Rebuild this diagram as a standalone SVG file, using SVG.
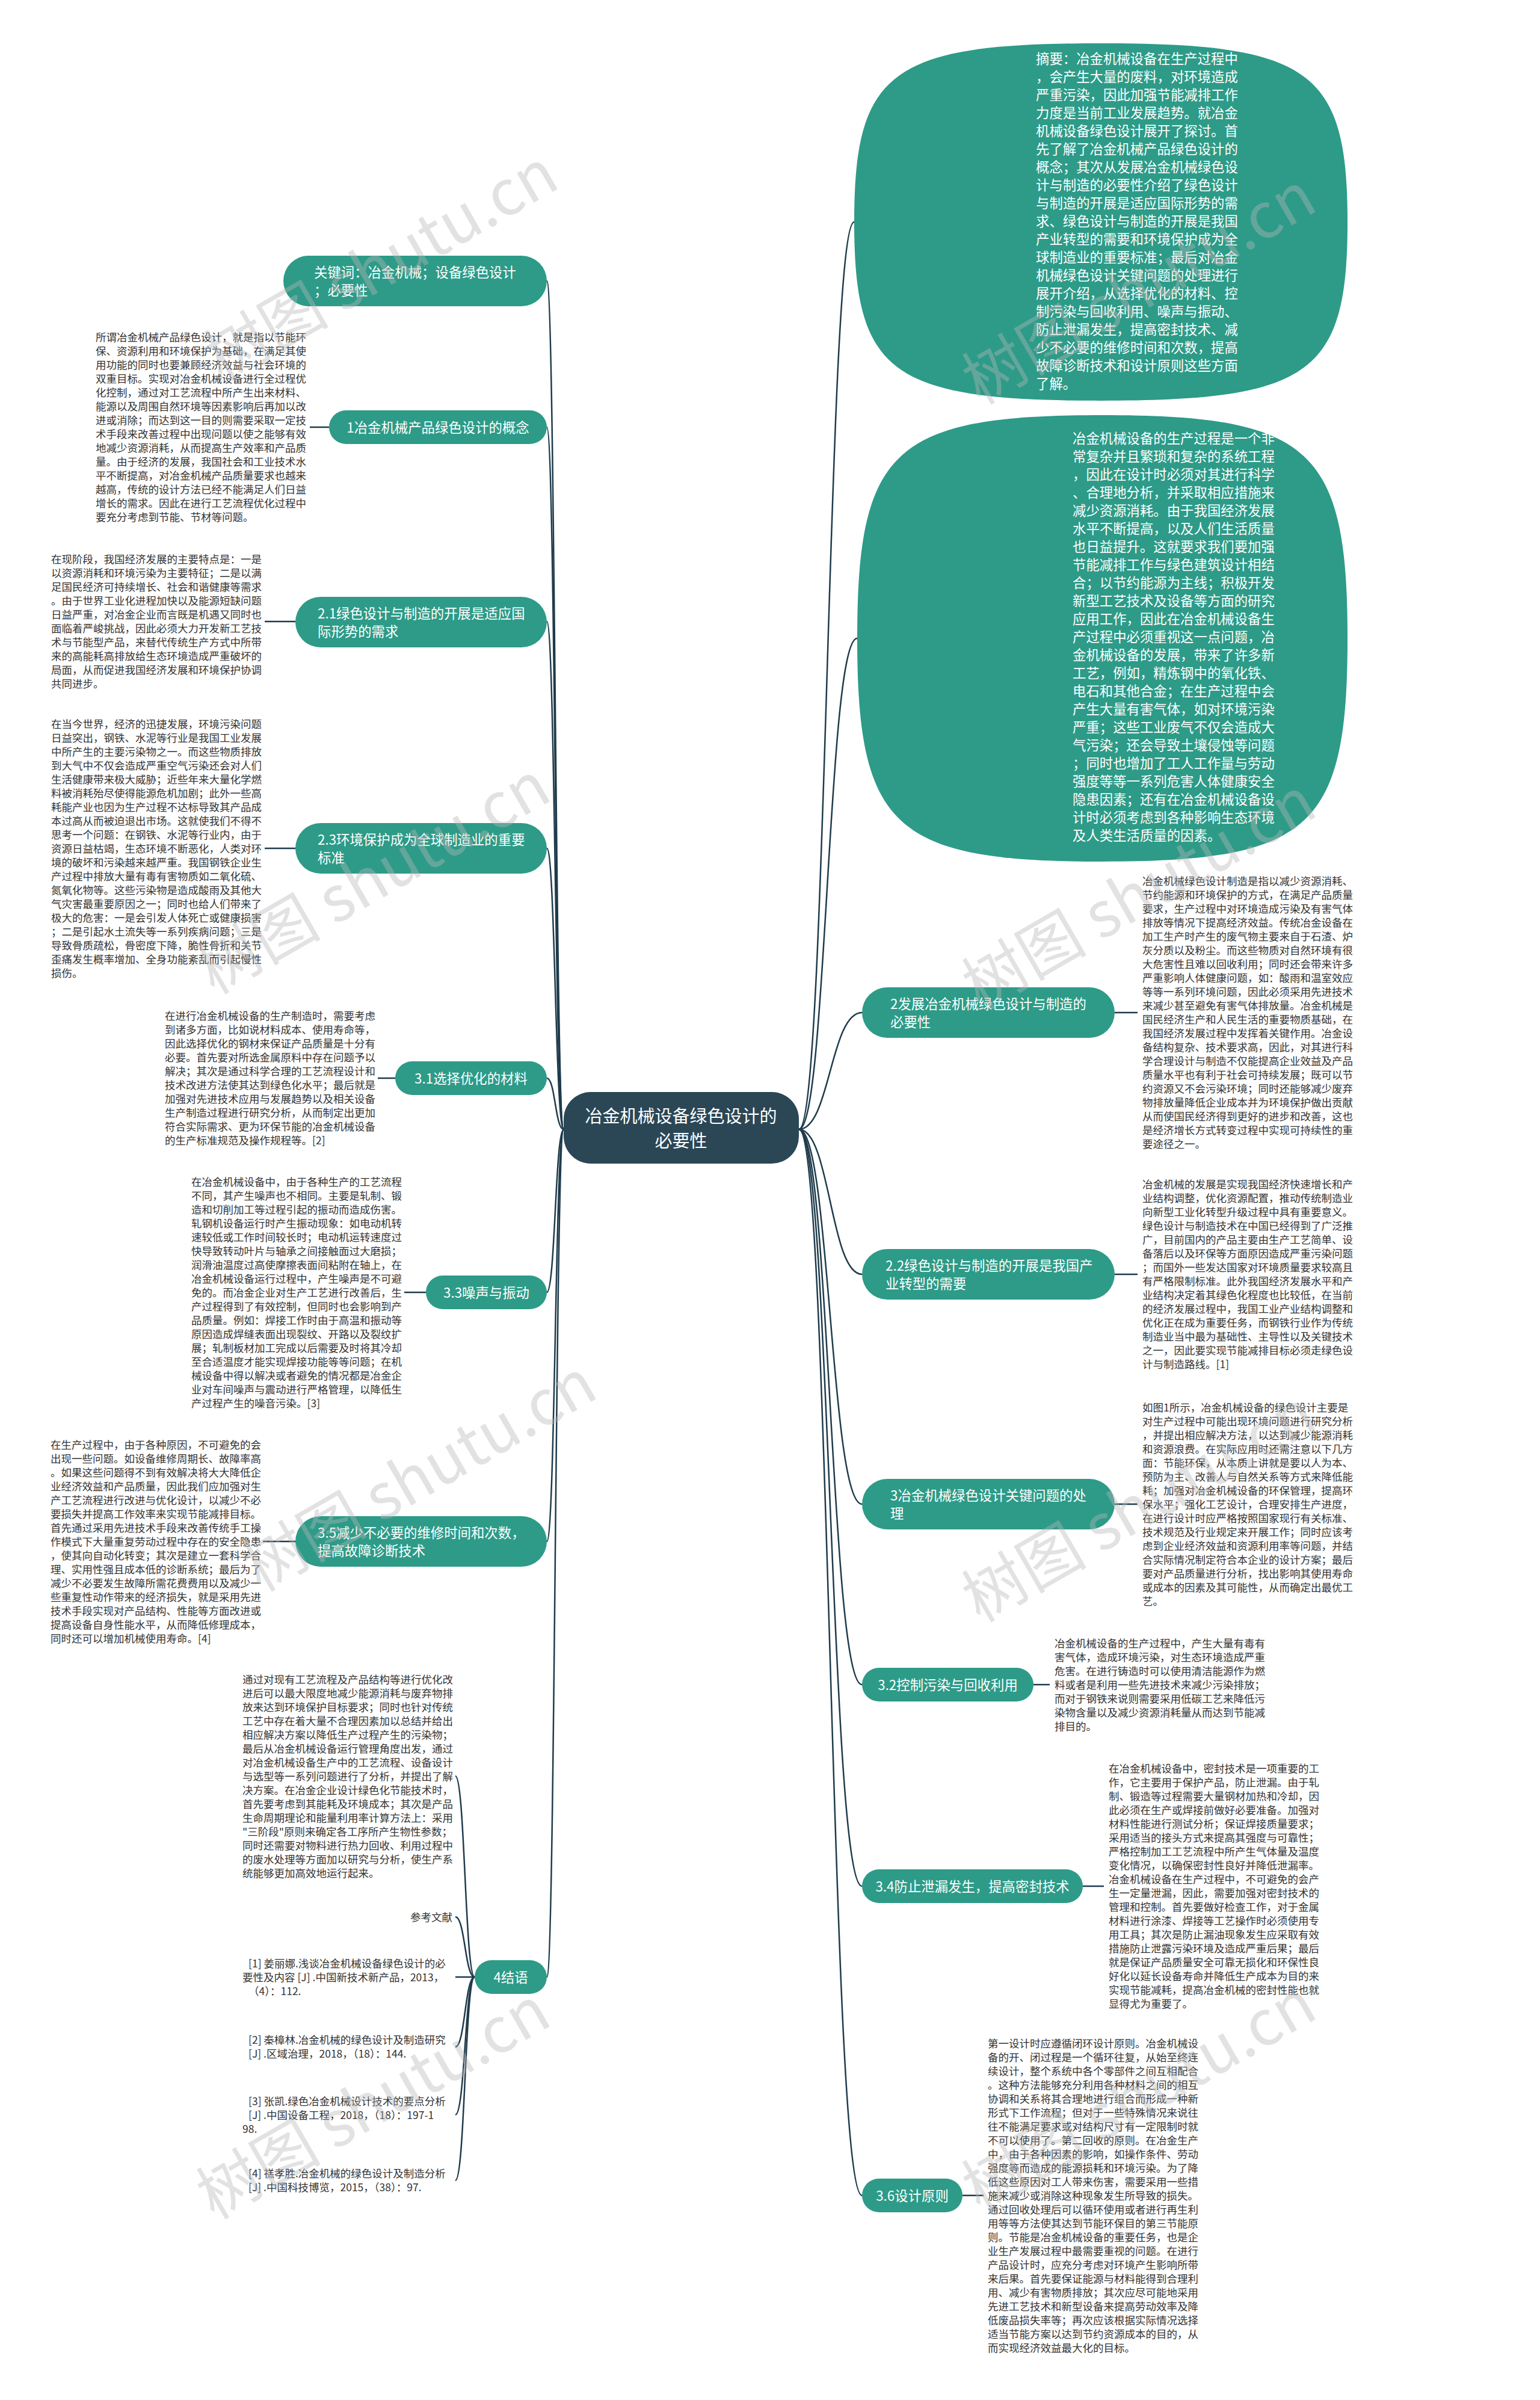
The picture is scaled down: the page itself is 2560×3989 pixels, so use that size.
<svg xmlns="http://www.w3.org/2000/svg" width="2560" height="3989" viewBox="0 0 2560 3989">
<style>
text{font-family:"Noto Sans CJK SC","Noto Sans",sans-serif}
.c{fill:none;stroke:#1f3b4b;stroke-width:2.5}
.n{fill:#2d9b88}
.nt{font-size:22.4px;fill:#fff}
.lt{font-size:17.5px;fill:#333}
.tt{font-size:29px;fill:#fff}
.wm{font-size:104px;fill:#b8b8b8;opacity:.4}
</style>
<rect width="2560" height="3989" fill="#fff"/>
<g id="connectors">
<path class="c" d="M1328,1877 C1375,1877 1375,369 1420,369"/>
<path class="c" d="M1328,1877 C1375,1877 1375,1061 1425,1061"/>
<path class="c" d="M1328,1877 C1380,1877 1380,1683 1433,1683"/>
<path class="c" d="M1328,1877 C1380,1877 1380,2118 1433,2118"/>
<path class="c" d="M1328,1877 C1380,1877 1380,2500 1433,2500"/>
<path class="c" d="M1328,1877 C1380,1877 1380,2800 1433,2800"/>
<path class="c" d="M1328,1877 C1380,1877 1380,3135 1433,3135"/>
<path class="c" d="M1328,1877 C1380,1877 1380,3649 1433,3649"/>
<path class="c" d="M937,1877 C923,1877 923,467 909,467"/>
<path class="c" d="M937,1877 C923,1877 923,710 909,710"/>
<path class="c" d="M937,1877 C923,1877 923,1033 909,1033"/>
<path class="c" d="M937,1877 C923,1877 923,1410 909,1410"/>
<path class="c" d="M937,1877 C923,1877 923,1792 909,1792"/>
<path class="c" d="M937,1877 C923,1877 923,2148 909,2148"/>
<path class="c" d="M937,1877 C923,1877 923,2562 909,2562"/>
<path class="c" d="M937,1877 C923,1877 923,3286 909,3286"/>
<path class="c" d="M547,710 H515"/>
<path class="c" d="M491,1033 H440"/>
<path class="c" d="M491,1410 H440"/>
<path class="c" d="M657,1792 H628"/>
<path class="c" d="M708,2148 H672"/>
<path class="c" d="M491,2562 H437"/>
<path class="c" d="M789,3286 C773,3286 773,2952 757,2952"/>
<path class="c" d="M789,3286 C773,3286 773,3186 757,3186"/>
<path class="c" d="M789,3286 H757"/>
<path class="c" d="M789,3286 C773,3286 773,3402 757,3402"/>
<path class="c" d="M789,3286 C773,3286 773,3515 757,3515"/>
<path class="c" d="M789,3286 C773,3286 773,3624 757,3624"/>
<path class="c" d="M1853,1683 H1891"/>
<path class="c" d="M1853,2118 H1891"/>
<path class="c" d="M1853,2500 H1891"/>
<path class="c" d="M1718,2800 H1745"/>
<path class="c" d="M1800,3135 H1835"/>
<path class="c" d="M1600,3649 H1635"/>
</g>
<g id="center">
<rect x="937" y="1815" width="391" height="119" rx="45" fill="#2b4756"/>
<text class="tt" text-anchor="middle"><tspan x="1132" y="1866">冶金机械设备绿色设计的</tspan><tspan x="1132" y="1907">必要性</tspan></text>
</g>
<g id="abstract">
<path class="n" d="M1420,369 C1420,116.6 1481.5,72 1830,72 C2178.5,72 2240,116.6 2240,369 C2240,621.4 2178.5,666 1830,666 C1481.5,666 1420,621.4 1420,369Z"/>
<text class="nt"><tspan x="1722" y="105.5">摘要：冶金机械设备在生产过程中</tspan><tspan x="1722" dy="30">，会产生大量的废料，对环境造成</tspan><tspan x="1722" dy="30">严重污染，因此加强节能减排工作</tspan><tspan x="1722" dy="30">力度是当前工业发展趋势。就冶金</tspan><tspan x="1722" dy="30">机械设备绿色设计展开了探讨。首</tspan><tspan x="1722" dy="30">先了解了冶金机械产品绿色设计的</tspan><tspan x="1722" dy="30">概念；其次从发展冶金机械绿色设</tspan><tspan x="1722" dy="30">计与制造的必要性介绍了绿色设计</tspan><tspan x="1722" dy="30">与制造的开展是适应国际形势的需</tspan><tspan x="1722" dy="30">求、绿色设计与制造的开展是我国</tspan><tspan x="1722" dy="30">产业转型的需要和环境保护成为全</tspan><tspan x="1722" dy="30">球制造业的重要标准；最后对冶金</tspan><tspan x="1722" dy="30">机械绿色设计关键问题的处理进行</tspan><tspan x="1722" dy="30">展开介绍，从选择优化的材料、控</tspan><tspan x="1722" dy="30">制污染与回收利用、噪声与振动、</tspan><tspan x="1722" dy="30">防止泄漏发生，提高密封技术、减</tspan><tspan x="1722" dy="30">少不必要的维修时间和次数，提高</tspan><tspan x="1722" dy="30">故障诊断技术和设计原则这些方面</tspan><tspan x="1722" dy="30">了解。</tspan></text>
</g>
<g id="intro">
<path class="n" d="M1425,1061 C1425,745.6 1486,690 1832.5,690 C2179,690 2240,745.6 2240,1061 C2240,1376.4 2179,1432 1832.5,1432 C1486,1432 1425,1376.4 1425,1061Z"/>
<text class="nt"><tspan x="1783" y="736.5">冶金机械设备的生产过程是一个非</tspan><tspan x="1783" dy="30">常复杂并且繁琐和复杂的系统工程</tspan><tspan x="1783" dy="30">，因此在设计时必须对其进行科学</tspan><tspan x="1783" dy="30">、合理地分析，并采取相应措施来</tspan><tspan x="1783" dy="30">减少资源消耗。由于我国经济发展</tspan><tspan x="1783" dy="30">水平不断提高，以及人们生活质量</tspan><tspan x="1783" dy="30">也日益提升。这就要求我们要加强</tspan><tspan x="1783" dy="30">节能减排工作与绿色建筑设计相结</tspan><tspan x="1783" dy="30">合；以节约能源为主线；积极开发</tspan><tspan x="1783" dy="30">新型工艺技术及设备等方面的研究</tspan><tspan x="1783" dy="30">应用工作，因此在冶金机械设备生</tspan><tspan x="1783" dy="30">产过程中必须重视这一点问题，冶</tspan><tspan x="1783" dy="30">金机械设备的发展，带来了许多新</tspan><tspan x="1783" dy="30">工艺，例如，精炼钢中的氧化铁、</tspan><tspan x="1783" dy="30">电石和其他合金；在生产过程中会</tspan><tspan x="1783" dy="30">产生大量有害气体，如对环境污染</tspan><tspan x="1783" dy="30">严重；这些工业废气不仅会造成大</tspan><tspan x="1783" dy="30">气污染；还会导致土壤侵蚀等问题</tspan><tspan x="1783" dy="30">；同时也增加了工人工作量与劳动</tspan><tspan x="1783" dy="30">强度等等一系列危害人体健康安全</tspan><tspan x="1783" dy="30">隐患因素；还有在冶金机械设备设</tspan><tspan x="1783" dy="30">计时必须考虑到各种影响生态环境</tspan><tspan x="1783" dy="30">及人类生活质量的因素。</tspan></text>
</g>
<g id="n2">
<rect class="n" x="1433" y="1641" width="420" height="84" rx="42"/>
<text class="nt"><tspan x="1480" y="1676.5">2发展冶金机械绿色设计与制造的</tspan><tspan x="1480" dy="30">必要性</tspan></text>
<text class="lt"><tspan x="1899" y="1471">冶金机械绿色设计制造是指以减少资源消耗、</tspan><tspan x="1899" dy="23">节约能源和环境保护的方式，在满足产品质量</tspan><tspan x="1899" dy="23">要求，生产过程中对环境造成污染及有害气体</tspan><tspan x="1899" dy="23">排放等情况下提高经济效益。传统冶金设备在</tspan><tspan x="1899" dy="23">加工生产时产生的废气物主要来自于石渣、炉</tspan><tspan x="1899" dy="23">灰分质以及粉尘。而这些物质对自然环境有很</tspan><tspan x="1899" dy="23">大危害性且难以回收利用；同时还会带来许多</tspan><tspan x="1899" dy="23">严重影响人体健康问题，如：酸雨和温室效应</tspan><tspan x="1899" dy="23">等等一系列环境问题，因此必须采用先进技术</tspan><tspan x="1899" dy="23">来减少甚至避免有害气体排放量。冶金机械是</tspan><tspan x="1899" dy="23">国民经济生产和人民生活的重要物质基础，在</tspan><tspan x="1899" dy="23">我国经济发展过程中发挥着关键作用。冶金设</tspan><tspan x="1899" dy="23">备结构复杂、技术要求高，因此，对其进行科</tspan><tspan x="1899" dy="23">学合理设计与制造不仅能提高企业效益及产品</tspan><tspan x="1899" dy="23">质量水平也有利于社会可持续发展；既可以节</tspan><tspan x="1899" dy="23">约资源又不会污染环境；同时还能够减少废弃</tspan><tspan x="1899" dy="23">物排放量降低企业成本并为环境保护做出贡献</tspan><tspan x="1899" dy="23">从而使国民经济得到更好的进步和改善，这也</tspan><tspan x="1899" dy="23">是经济增长方式转变过程中实现可持续性的重</tspan><tspan x="1899" dy="23">要途径之一。</tspan></text>
</g>
<g id="n22">
<rect class="n" x="1433" y="2076" width="420" height="84" rx="42"/>
<text class="nt"><tspan x="1472" y="2111.5">2.2绿色设计与制造的开展是我国产</tspan><tspan x="1472" dy="30">业转型的需要</tspan></text>
<text class="lt"><tspan x="1899" y="1975">冶金机械的发展是实现我国经济快速增长和产</tspan><tspan x="1899" dy="23">业结构调整，优化资源配置，推动传统制造业</tspan><tspan x="1899" dy="23">向新型工业化转型升级过程中具有重要意义。</tspan><tspan x="1899" dy="23">绿色设计与制造技术在中国已经得到了广泛推</tspan><tspan x="1899" dy="23">广，目前国内的产品主要由生产工艺简单、设</tspan><tspan x="1899" dy="23">备落后以及环保等方面原因造成严重污染问题</tspan><tspan x="1899" dy="23">；而国外一些发达国家对环境质量要求较高且</tspan><tspan x="1899" dy="23">有严格限制标准。此外我国经济发展水平和产</tspan><tspan x="1899" dy="23">业结构决定着其绿色化程度也比较低，在当前</tspan><tspan x="1899" dy="23">的经济发展过程中，我国工业产业结构调整和</tspan><tspan x="1899" dy="23">优化正在成为重要任务，而钢铁行业作为传统</tspan><tspan x="1899" dy="23">制造业当中最为基础性、主导性以及关键技术</tspan><tspan x="1899" dy="23">之一，因此要实现节能减排目标必须走绿色设</tspan><tspan x="1899" dy="23">计与制造路线。[1]</tspan></text>
</g>
<g id="n3">
<rect class="n" x="1433" y="2458" width="420" height="84" rx="42"/>
<text class="nt"><tspan x="1480" y="2493.5">3冶金机械绿色设计关键问题的处</tspan><tspan x="1480" dy="30">理</tspan></text>
<text class="lt"><tspan x="1899" y="2345.5">如图1所示，冶金机械设备的绿色设计主要是</tspan><tspan x="1899" dy="23">对生产过程中可能出现环境问题进行研究分析</tspan><tspan x="1899" dy="23">，并提出相应解决方法，以达到减少能源消耗</tspan><tspan x="1899" dy="23">和资源浪费。在实际应用时还需注意以下几方</tspan><tspan x="1899" dy="23">面：节能环保，从本质上讲就是要以人为本、</tspan><tspan x="1899" dy="23">预防为主、改善人与自然关系等方式来降低能</tspan><tspan x="1899" dy="23">耗；加强对冶金机械设备的环保管理，提高环</tspan><tspan x="1899" dy="23">保水平；强化工艺设计，合理安排生产进度，</tspan><tspan x="1899" dy="23">在进行设计时应严格按照国家现行有关标准、</tspan><tspan x="1899" dy="23">技术规范及行业规定来开展工作；同时应该考</tspan><tspan x="1899" dy="23">虑到企业经济效益和资源利用率等问题，并结</tspan><tspan x="1899" dy="23">合实际情况制定符合本企业的设计方案；最后</tspan><tspan x="1899" dy="23">要对产品质量进行分析，找出影响其使用寿命</tspan><tspan x="1899" dy="23">或成本的因素及其可能性，从而确定出最优工</tspan><tspan x="1899" dy="23">艺。</tspan></text>
</g>
<g id="n32">
<rect class="n" x="1433" y="2772" width="285" height="56" rx="28"/>
<text class="nt" text-anchor="middle"><tspan x="1575.5" y="2808.5">3.2控制污染与回收利用</tspan></text>
<text class="lt"><tspan x="1753" y="2737.5">冶金机械设备的生产过程中，产生大量有毒有</tspan><tspan x="1753" dy="23">害气体，造成环境污染，对生态环境造成严重</tspan><tspan x="1753" dy="23">危害。在进行铸造时可以使用清洁能源作为燃</tspan><tspan x="1753" dy="23">料或者是利用一些先进技术来减少污染排放；</tspan><tspan x="1753" dy="23">而对于钢铁来说则需要采用低碳工艺来降低污</tspan><tspan x="1753" dy="23">染物含量以及减少资源消耗量从而达到节能减</tspan><tspan x="1753" dy="23">排目的。</tspan></text>
</g>
<g id="n34">
<rect class="n" x="1433" y="3107" width="367" height="56" rx="28"/>
<text class="nt" text-anchor="middle"><tspan x="1616.5" y="3143.5">3.4防止泄漏发生，提高密封技术</tspan></text>
<text class="lt"><tspan x="1843" y="2946">在冶金机械设备中，密封技术是一项重要的工</tspan><tspan x="1843" dy="23">作，它主要用于保护产品，防止泄漏。由于轧</tspan><tspan x="1843" dy="23">制、锻造等过程需要大量钢材加热和冷却，因</tspan><tspan x="1843" dy="23">此必须在生产或焊接前做好必要准备。加强对</tspan><tspan x="1843" dy="23">材料性能进行测试分析；保证焊接质量要求；</tspan><tspan x="1843" dy="23">采用适当的接头方式来提高其强度与可靠性；</tspan><tspan x="1843" dy="23">严格控制加工工艺流程中所产生气体量及温度</tspan><tspan x="1843" dy="23">变化情况，以确保密封性良好并降低泄漏率。</tspan><tspan x="1843" dy="23">冶金机械设备在生产过程中，不可避免的会产</tspan><tspan x="1843" dy="23">生一定量泄漏，因此，需要加强对密封技术的</tspan><tspan x="1843" dy="23">管理和控制。首先要做好检查工作，对于金属</tspan><tspan x="1843" dy="23">材料进行涂漆、焊接等工艺操作时必须使用专</tspan><tspan x="1843" dy="23">用工具；其次是防止漏油现象发生应采取有效</tspan><tspan x="1843" dy="23">措施防止泄露污染环境及造成严重后果；最后</tspan><tspan x="1843" dy="23">就是保证产品质量安全可靠无损化和环保性良</tspan><tspan x="1843" dy="23">好化以延长设备寿命并降低生产成本为目的来</tspan><tspan x="1843" dy="23">实现节能减耗，提高冶金机械的密封性能也就</tspan><tspan x="1843" dy="23">显得尤为重要了。</tspan></text>
</g>
<g id="n36">
<rect class="n" x="1433" y="3621" width="167" height="56" rx="28"/>
<text class="nt" text-anchor="middle"><tspan x="1516.5" y="3657.5">3.6设计原则</tspan></text>
<text class="lt"><tspan x="1642" y="3402.5">第一设计时应遵循闭环设计原则。冶金机械设</tspan><tspan x="1642" dy="23">备的开、闭过程是一个循环往复，从始至终连</tspan><tspan x="1642" dy="23">续设计，整个系统中各个零部件之间互相配合</tspan><tspan x="1642" dy="23">。这种方法能够充分利用各种材料之间的相互</tspan><tspan x="1642" dy="23">协调和关系将其合理地进行组合而形成一种新</tspan><tspan x="1642" dy="23">形式下工作流程；但对于一些特殊情况来说往</tspan><tspan x="1642" dy="23">往不能满足要求或对结构尺寸有一定限制时就</tspan><tspan x="1642" dy="23">不可以使用了。第二回收的原则。在冶金生产</tspan><tspan x="1642" dy="23">中，由于各种因素的影响，如操作条件、劳动</tspan><tspan x="1642" dy="23">强度等而造成的能源损耗和环境污染。为了降</tspan><tspan x="1642" dy="23">低这些原因对工人带来伤害，需要采用一些措</tspan><tspan x="1642" dy="23">施来减少或消除这种现象发生所导致的损失。</tspan><tspan x="1642" dy="23">通过回收处理后可以循环使用或者进行再生利</tspan><tspan x="1642" dy="23">用等等方法使其达到节能环保目的第三节能原</tspan><tspan x="1642" dy="23">则。节能是冶金机械设备的重要任务，也是企</tspan><tspan x="1642" dy="23">业生产发展过程中最需要重视的问题。在进行</tspan><tspan x="1642" dy="23">产品设计时，应充分考虑对环境产生影响所带</tspan><tspan x="1642" dy="23">来后果。首先要保证能源与材料能得到合理利</tspan><tspan x="1642" dy="23">用、减少有害物质排放；其次应尽可能地采用</tspan><tspan x="1642" dy="23">先进工艺技术和新型设备来提高劳动效率及降</tspan><tspan x="1642" dy="23">低废品损失率等；再次应该根据实际情况选择</tspan><tspan x="1642" dy="23">适当节能方案以达到节约资源成本的目的，从</tspan><tspan x="1642" dy="23">而实现经济效益最大化的目标。</tspan></text>
</g>
<g id="kw">
<rect class="n" x="471" y="425" width="438" height="84" rx="42"/>
<text class="nt"><tspan x="522" y="460.5">关键词：冶金机械；设备绿色设计</tspan><tspan x="522" dy="30">；必要性</tspan></text>
</g>
<g id="n1">
<rect class="n" x="547" y="682" width="362" height="56" rx="28"/>
<text class="nt" text-anchor="middle"><tspan x="728" y="718.5">1冶金机械产品绿色设计的概念</tspan></text>
<text class="lt"><tspan x="159" y="567">所谓冶金机械产品绿色设计，就是指以节能环</tspan><tspan x="159" dy="23">保、资源利用和环境保护为基础，在满足其使</tspan><tspan x="159" dy="23">用功能的同时也要兼顾经济效益与社会环境的</tspan><tspan x="159" dy="23">双重目标。实现对冶金机械设备进行全过程优</tspan><tspan x="159" dy="23">化控制，通过对工艺流程中所产生出来材料、</tspan><tspan x="159" dy="23">能源以及周围自然环境等因素影响后再加以改</tspan><tspan x="159" dy="23">进或消除；而达到这一目的则需要采取一定技</tspan><tspan x="159" dy="23">术手段来改善过程中出现问题以使之能够有效</tspan><tspan x="159" dy="23">地减少资源消耗，从而提高生产效率和产品质</tspan><tspan x="159" dy="23">量。由于经济的发展，我国社会和工业技术水</tspan><tspan x="159" dy="23">平不断提高，对冶金机械产品质量要求也越来</tspan><tspan x="159" dy="23">越高，传统的设计方法已经不能满足人们日益</tspan><tspan x="159" dy="23">增长的需求。因此在进行工艺流程优化过程中</tspan><tspan x="159" dy="23">要充分考虑到节能、节材等问题。</tspan></text>
</g>
<g id="n21">
<rect class="n" x="491" y="992" width="418" height="84" rx="42"/>
<text class="nt"><tspan x="528" y="1027.5">2.1绿色设计与制造的开展是适应国</tspan><tspan x="528" dy="30">际形势的需求</tspan></text>
<text class="lt"><tspan x="85" y="936">在现阶段，我国经济发展的主要特点是：一是</tspan><tspan x="85" dy="23">以资源消耗和环境污染为主要特征；二是以满</tspan><tspan x="85" dy="23">足国民经济可持续增长、社会和谐健康等需求</tspan><tspan x="85" dy="23">。由于世界工业化进程加快以及能源短缺问题</tspan><tspan x="85" dy="23">日益严重，对冶金企业而言既是机遇又同时也</tspan><tspan x="85" dy="23">面临着严峻挑战，因此必须大力开发新工艺技</tspan><tspan x="85" dy="23">术与节能型产品，来替代传统生产方式中所带</tspan><tspan x="85" dy="23">来的高能耗高排放给生态环境造成严重破坏的</tspan><tspan x="85" dy="23">局面，从而促进我国经济发展和环境保护协调</tspan><tspan x="85" dy="23">共同进步。</tspan></text>
</g>
<g id="n23">
<rect class="n" x="491" y="1368" width="418" height="84" rx="42"/>
<text class="nt"><tspan x="528" y="1403.5">2.3环境保护成为全球制造业的重要</tspan><tspan x="528" dy="30">标准</tspan></text>
<text class="lt"><tspan x="85" y="1209.5">在当今世界，经济的迅捷发展，环境污染问题</tspan><tspan x="85" dy="23">日益突出，钢铁、水泥等行业是我国工业发展</tspan><tspan x="85" dy="23">中所产生的主要污染物之一。而这些物质排放</tspan><tspan x="85" dy="23">到大气中不仅会造成严重空气污染还会对人们</tspan><tspan x="85" dy="23">生活健康带来极大威胁；近些年来大量化学燃</tspan><tspan x="85" dy="23">料被消耗殆尽使得能源危机加剧；此外一些高</tspan><tspan x="85" dy="23">耗能产业也因为生产过程不达标导致其产品成</tspan><tspan x="85" dy="23">本过高从而被迫退出市场。这就使我们不得不</tspan><tspan x="85" dy="23">思考一个问题：在钢铁、水泥等行业内，由于</tspan><tspan x="85" dy="23">资源日益枯竭，生态环境不断恶化，人类对环</tspan><tspan x="85" dy="23">境的破坏和污染越来越严重。我国钢铁企业生</tspan><tspan x="85" dy="23">产过程中排放大量有毒有害物质如二氧化硫、</tspan><tspan x="85" dy="23">氮氧化物等。这些污染物是造成酸雨及其他大</tspan><tspan x="85" dy="23">气灾害最重要原因之一；同时也给人们带来了</tspan><tspan x="85" dy="23">极大的危害：一是会引发人体死亡或健康损害</tspan><tspan x="85" dy="23">；二是引起水土流失等一系列疾病问题；三是</tspan><tspan x="85" dy="23">导致骨质疏松，骨密度下降，脆性骨折和关节</tspan><tspan x="85" dy="23">歪痛发生概率增加、全身功能紊乱而引起慢性</tspan><tspan x="85" dy="23">损伤。</tspan></text>
</g>
<g id="n31">
<rect class="n" x="657" y="1764" width="252" height="56" rx="28"/>
<text class="nt" text-anchor="middle"><tspan x="783" y="1800.5">3.1选择优化的材料</tspan></text>
<text class="lt"><tspan x="274" y="1695">在进行冶金机械设备的生产制造时，需要考虑</tspan><tspan x="274" dy="23">到诸多方面，比如说材料成本、使用寿命等，</tspan><tspan x="274" dy="23">因此选择优化的钢材来保证产品质量是十分有</tspan><tspan x="274" dy="23">必要。首先要对所选金属原料中存在问题予以</tspan><tspan x="274" dy="23">解决；其次是通过科学合理的工艺流程设计和</tspan><tspan x="274" dy="23">技术改进方法使其达到绿色化水平；最后就是</tspan><tspan x="274" dy="23">加强对先进技术应用与发展趋势以及相关设备</tspan><tspan x="274" dy="23">生产制造过程进行研究分析，从而制定出更加</tspan><tspan x="274" dy="23">符合实际需求、更为环保节能的冶金机械设备</tspan><tspan x="274" dy="23">的生产标准规范及操作规程等。[2]</tspan></text>
</g>
<g id="n33">
<rect class="n" x="708" y="2120" width="201" height="56" rx="28"/>
<text class="nt" text-anchor="middle"><tspan x="808.5" y="2156.5">3.3噪声与振动</tspan></text>
<text class="lt"><tspan x="318" y="1970.5">在冶金机械设备中，由于各种生产的工艺流程</tspan><tspan x="318" dy="23">不同，其产生噪声也不相同。主要是轧制、锻</tspan><tspan x="318" dy="23">造和切削加工等过程引起的振动而造成伤害。</tspan><tspan x="318" dy="23">轧钢机设备运行时产生振动现象：如电动机转</tspan><tspan x="318" dy="23">速较低或工作时间较长时；电动机运转速度过</tspan><tspan x="318" dy="23">快导致转动叶片与轴承之间接触面过大磨损；</tspan><tspan x="318" dy="23">润滑油温度过高使摩擦表面间粘附在轴上，在</tspan><tspan x="318" dy="23">冶金机械设备运行过程中，产生噪声是不可避</tspan><tspan x="318" dy="23">免的。而冶金企业对生产工艺进行改善后，生</tspan><tspan x="318" dy="23">产过程得到了有效控制，但同时也会影响到产</tspan><tspan x="318" dy="23">品质量。例如：焊接工作时由于高温和振动等</tspan><tspan x="318" dy="23">原因造成焊缝表面出现裂纹、开路以及裂纹扩</tspan><tspan x="318" dy="23">展；轧制板材加工完成以后需要及时将其冷却</tspan><tspan x="318" dy="23">至合适温度才能实现焊接功能等等问题；在机</tspan><tspan x="318" dy="23">械设备中得以解决或者避免的情况都是冶金企</tspan><tspan x="318" dy="23">业对车间噪声与震动进行严格管理，以降低生</tspan><tspan x="318" dy="23">产过程产生的噪音污染。[3]</tspan></text>
</g>
<g id="n35">
<rect class="n" x="491" y="2520" width="418" height="84" rx="42"/>
<text class="nt"><tspan x="528" y="2555.5">3.5减少不必要的维修时间和次数，</tspan><tspan x="528" dy="30">提高故障诊断技术</tspan></text>
<text class="lt"><tspan x="84" y="2407.5">在生产过程中，由于各种原因，不可避免的会</tspan><tspan x="84" dy="23">出现一些问题。如设备维修周期长、故障率高</tspan><tspan x="84" dy="23">。如果这些问题得不到有效解决将大大降低企</tspan><tspan x="84" dy="23">业经济效益和产品质量，因此我们应加强对生</tspan><tspan x="84" dy="23">产工艺流程进行改进与优化设计，以减少不必</tspan><tspan x="84" dy="23">要损失并提高工作效率来实现节能减排目标。</tspan><tspan x="84" dy="23">首先通过采用先进技术手段来改善传统手工操</tspan><tspan x="84" dy="23">作模式下大量重复劳动过程中存在的安全隐患</tspan><tspan x="84" dy="23">，使其向自动化转变；其次是建立一套科学合</tspan><tspan x="84" dy="23">理、实用性强且成本低的诊断系统；最后为了</tspan><tspan x="84" dy="23">减少不必要发生故障所需花费费用以及减少一</tspan><tspan x="84" dy="23">些重复性动作带来的经济损失，就是采用先进</tspan><tspan x="84" dy="23">技术手段实现对产品结构、性能等方面改进或</tspan><tspan x="84" dy="23">提高设备自身性能水平，从而降低修理成本，</tspan><tspan x="84" dy="23">同时还可以增加机械使用寿命。[4]</tspan></text>
</g>
<g id="n4">
<rect class="n" x="789" y="3258" width="120" height="56" rx="28"/>
<text class="nt" text-anchor="middle"><tspan x="849" y="3294.5">4结语</tspan></text>
<text class="lt"><tspan x="403" y="2797.5">通过对现有工艺流程及产品结构等进行优化改</tspan><tspan x="403" dy="23">进后可以最大限度地减少能源消耗与废弃物排</tspan><tspan x="403" dy="23">放来达到环境保护目标要求；同时也针对传统</tspan><tspan x="403" dy="23">工艺中存在着大量不合理因素加以总结并给出</tspan><tspan x="403" dy="23">相应解决方案以降低生产过程产生的污染物；</tspan><tspan x="403" dy="23">最后从冶金机械设备运行管理角度出发，通过</tspan><tspan x="403" dy="23">对冶金机械设备生产中的工艺流程、设备设计</tspan><tspan x="403" dy="23">与选型等一系列问题进行了分析，并提出了解</tspan><tspan x="403" dy="23">决方案。在冶金企业设计绿色化节能技术时，</tspan><tspan x="403" dy="23">首先要考虑到其能耗及环境成本；其次是产品</tspan><tspan x="403" dy="23">生命周期理论和能量利用率计算方法上：采用</tspan><tspan x="403" dy="23">"三阶段"原则来确定各工序所产生物性参数；</tspan><tspan x="403" dy="23">同时还需要对物料进行热力回收、利用过程中</tspan><tspan x="403" dy="23">的废水处理等方面加以研究与分析，使生产系</tspan><tspan x="403" dy="23">统能够更加高效地运行起来。</tspan></text>
<text class="lt" text-anchor="end" x="752" y="3192.5">参考文献</text>
<text class="lt"><tspan x="413" y="3269.5">[1]  姜丽娜.浅谈冶金机械设备绿色设计的必</tspan><tspan x="403" dy="23">要性及内容 [J] .中国新技术新产品，2013，</tspan><tspan x="413" dy="23">（4）：112.</tspan></text>
<text class="lt"><tspan x="413" y="3397">[2]  秦樟林.冶金机械的绿色设计及制造研究</tspan><tspan x="413" dy="23">[J] .区域治理，2018，（18）：144.</tspan></text>
<text class="lt"><tspan x="413" y="3498.5">[3]  张凯.绿色冶金机械设计技术的要点分析</tspan><tspan x="413" dy="23">[J] .中国设备工程，2018，（18）：197-1</tspan><tspan x="403" dy="23">98.</tspan></text>
<text class="lt"><tspan x="413" y="3619">[4]  禚孝胜.冶金机械的绿色设计及制造分析</tspan><tspan x="413" dy="23">[J] .中国科技博览，2015，（38）：97.</tspan></text>
</g>
<g id="watermark">
<text class="wm" transform="translate(369,636) rotate(-30)">树图 shutu.cn</text>
<text class="wm" transform="translate(1629,674) rotate(-30)">树图 shutu.cn</text>
<text class="wm" transform="translate(356,1654) rotate(-30)">树图 shutu.cn</text>
<text class="wm" transform="translate(1629,1680) rotate(-30)">树图 shutu.cn</text>
<text class="wm" transform="translate(433,2647) rotate(-30)">树图 shutu.cn</text>
<text class="wm" transform="translate(1629,2698) rotate(-30)">树图 shutu.cn</text>
<text class="wm" transform="translate(356,3690) rotate(-30)">树图 shutu.cn</text>
<text class="wm" transform="translate(1629,3678) rotate(-30)">树图 shutu.cn</text>
</g>
</svg>
